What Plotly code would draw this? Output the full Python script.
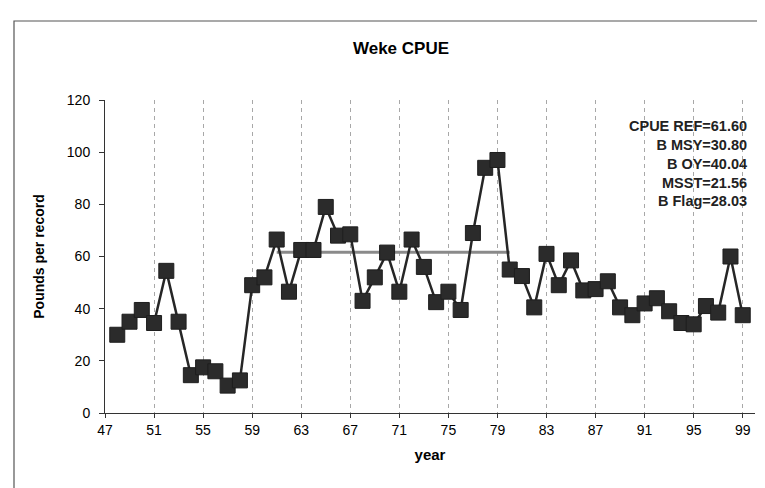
import plotly.graph_objects as go

years = list(range(48, 100))
cpue = [30, 35, 39.5, 34.5, 54.5, 35, 14.5, 17.5, 16, 10.5, 12.5, 49, 52,
        66.5, 46.5, 62.5, 62.5, 79, 68, 68.5, 43, 52, 61.5, 46.5, 66.5, 56,
        42.5, 46.5, 39.5, 69, 94, 97, 55, 52.5, 40.5, 61, 49, 58.5, 47, 47.5,
        50.5, 40.5, 37.5, 42, 44, 39, 34.5, 34, 41, 38.5, 60, 37.5]
ref_years = [61, 80]
ref_values = [61.6, 61.6]
x_ticks = list(range(47, 100, 4))
y_ticks = [0, 20, 40, 60, 80, 100, 120]
info_lines = ["CPUE REF=61.60", "B MSY=30.80", "B OY=40.04", "MSST=21.56", "B Flag=28.03"]

FONT = "Liberation Sans, Arial, sans-serif"

fig = go.Figure()
fig.add_trace(go.Scatter(
    x=ref_years, y=ref_values, mode="lines",
    line=dict(color="#8a8a8a", width=3),
    showlegend=False, hoverinfo="skip"))
fig.add_trace(go.Scatter(
    x=years, y=cpue, mode="lines+markers",
    line=dict(color="#262626", width=2.5),
    marker=dict(symbol="square", size=15, color="#2b2b2b",
                line=dict(color="#1e1e1e", width=1)),
    showlegend=False, hoverinfo="x+y"))

fig.update_layout(
    width=765, height=488,
    margin=dict(l=97, r=18, t=92, b=83),
    paper_bgcolor="white", plot_bgcolor="white",
    title=dict(text="<b>Weke CPUE</b>", x=393 / 765, xanchor="center",
               y=1 - 40 / 488, yanchor="middle",
               font=dict(family=FONT, size=17, color="black")),
    font=dict(family=FONT, size=13, color="black"),
    xaxis=dict(range=[47, 100], tickvals=x_ticks,
               ticktext=[str(v) for v in x_ticks],
               showgrid=True, gridcolor="#a8a8a8", griddash="4px,4px", gridwidth=1,
               showline=True, linecolor="#333", linewidth=1,
               ticks="outside", ticklen=4, tickcolor="#333",
               zeroline=False,
               title=dict(text="<b>year</b>", standoff=12,
                          font=dict(family=FONT, size=15, color="black")),
               tickfont=dict(family=FONT, size=14, color="black")),
    yaxis=dict(range=[0, 120], tickvals=y_ticks,
               showgrid=False, zeroline=False,
               showline=True, linecolor="#333", linewidth=1,
               ticks="outside", ticklen=5, tickcolor="#333",
               ticklabelstandoff=6,
               title=dict(text="<b>Pounds per record</b>", standoff=18,
                          font=dict(family=FONT, size=14, color="black")),
               tickfont=dict(family=FONT, size=14, color="black")),
)

fig.add_annotation(
    text="<b>" + "<br>".join(info_lines) + "</b>",
    xref="paper", yref="paper",
    x=(741 - 97) / 650, y=(405 - 155.5) / 313,
    xanchor="right", yanchor="middle", align="right", showarrow=False,
    font=dict(family=FONT, size=14.5, color="#222"))

fig.add_shape(type="rect", xref="paper", yref="paper",
              x0=(6 - 97) / 650, x1=(760 - 97) / 650,
              y0=(405 - 484) / 313, y1=(405 - 13) / 313,
              line=dict(color="#555", width=1.2), fillcolor="rgba(0,0,0,0)",
              layer="below")

fig.write_html("out.html")
